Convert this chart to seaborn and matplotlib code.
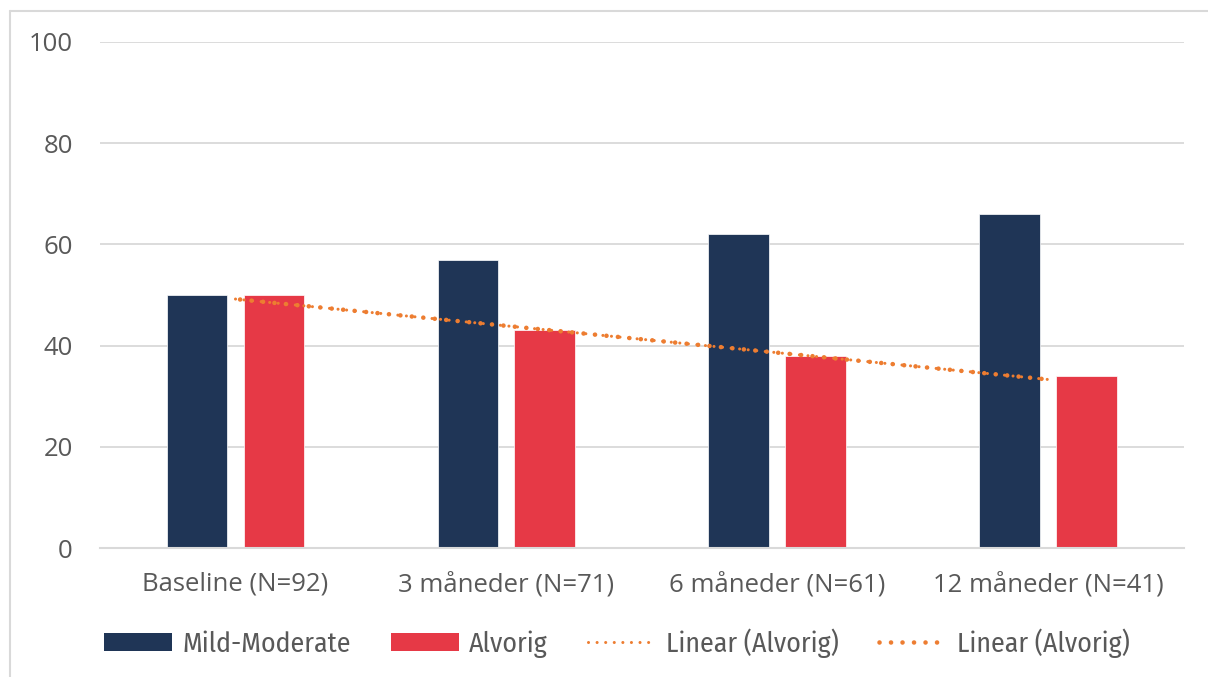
import numpy as np
import pandas as pd
import matplotlib
matplotlib.use("Agg")
import matplotlib.pyplot as plt
from matplotlib.patches import Patch
from matplotlib.lines import Line2D
import seaborn as sns

# Outcome share per follow-up visit
categories = ["Baseline (N=92)", "3 måneder (N=71)", "6 måneder (N=61)", "12 måneder (N=41)"]
mild_moderate = [50, 57, 62, 66]
alvorig = [50, 43, 38, 34]
series_names = ["Mild-Moderate", "Alvorig"]
trend_labels = ["Linear (Alvorig)", "Linear (Alvorig)"]
y_ticks = [0, 20, 40, 60, 80, 100]

NAVY = "#1F3556"
RED = "#E63946"
ORANGE = "#ED7D31"
GRID = "#D9D9D9"
TEXT = "#595959"

sns.set_theme(style="white")
plt.rcParams["font.family"] = ["Open Sans", "DejaVu Sans"]

df = pd.DataFrame({
    "visit": categories * 2,
    "series": [series_names[0]] * len(categories) + [series_names[1]] * len(categories),
    "value": mild_moderate + alvorig,
})

fig = plt.figure(figsize=(12.08, 6.77), dpi=100)
ax = fig.add_axes([0.0828, 0.1905, 0.8972, 0.7475])

sns.barplot(data=df, x="visit", y="value", hue="series", order=categories,
            hue_order=series_names, palette=[NAVY, RED], saturation=1,
            width=0.568, gap=0.208, edgecolor="white", linewidth=0.5,
            legend=False, ax=ax, zorder=2)

# Linear trend of the Alvorig series, drawn twice with two dot sizes
xpos = np.arange(len(categories))
slope, intercept = np.polyfit(xpos, alvorig, 1)
trend = slope * xpos + intercept
small_dots = dict(color=ORANGE, lw=2.2, linestyle=(0, (0.01, 2.8)), dash_capstyle="round")
large_dots = dict(color=ORANGE, lw=3.3, linestyle=(1.5, (0.01, 2.5)), dash_capstyle="round")
ax.plot(xpos, trend, zorder=3, **small_dots)
ax.plot(xpos, trend, zorder=3, **large_dots)

ax.set_xlim(-0.5, len(categories) - 0.5)
ax.set_ylim(0, 100)
ax.set_yticks(y_ticks)
ax.yaxis.grid(True, color=GRID, lw=1.3, zorder=0)
ax.set_axisbelow(True)
for side in ["top", "right", "left"]:
    ax.spines[side].set_visible(False)
ax.spines["bottom"].set_color(GRID)
ax.spines["bottom"].set_linewidth(1.5)
ax.set_xlabel("")
ax.set_ylabel("")
ax.tick_params(axis="both", length=0, labelsize=18.5, colors=TEXT)
ax.tick_params(axis="x", pad=17)
ax.tick_params(axis="y", pad=19.5)

handles = [
    Patch(facecolor=NAVY, edgecolor="none"),
    Patch(facecolor=RED, edgecolor="none"),
    Line2D([], [], **small_dots),
    Line2D([], [], **dict(large_dots, linestyle=(0, (0.01, 2.5)))),
]
labels = series_names + trend_labels
leg = fig.legend(handles, labels, loc="center", bbox_to_anchor=(0.511, 1 - 643 / 677),
                 ncol=4, frameon=False, handlelength=2.45, handleheight=0.65,
                 handletextpad=0.36, columnspacing=1.45,
                 prop={"family": ["Fira Sans Condensed", "DejaVu Sans"], "size": 20})
for t in leg.get_texts():
    t.set_color(TEXT)

# Chart frame
fig.add_artist(Line2D([10 / 1208, 10 / 1208], [0, 1 - 11 / 677], color=GRID, lw=1.5,
                      transform=fig.transFigure))
fig.add_artist(Line2D([10 / 1208, 1], [1 - 11 / 677, 1 - 11 / 677], color=GRID, lw=1.5,
                      transform=fig.transFigure))

fig.savefig("out.png", dpi=100, facecolor="white")
